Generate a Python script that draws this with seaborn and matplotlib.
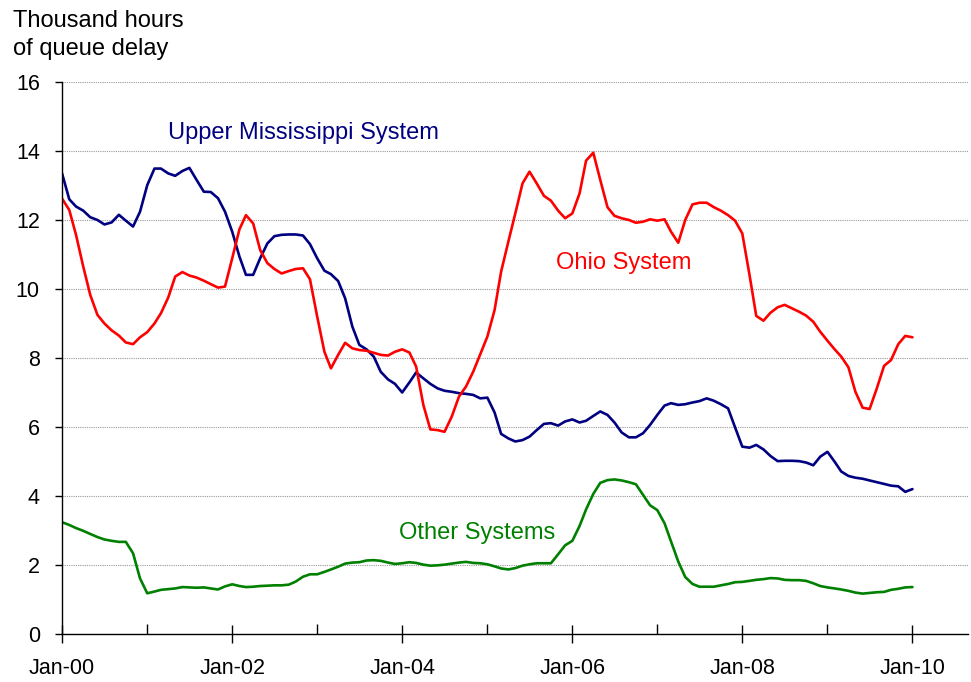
import pandas as pd
import seaborn as sns
import matplotlib.pyplot as plt
import matplotlib.dates as mdates

# monthly values, Jan-2000 .. Jan-2010 (thousand hours of queue delay)
meses = pd.date_range("2000-01-01", periods=121, freq="MS")

upper_mississippi = [
    13.35, 12.60, 12.39, 12.27, 12.08, 12.00, 11.87, 11.93, 12.15, 11.98, 11.81, 12.24,  # 2000
    13.01, 13.49, 13.49, 13.35, 13.28, 13.42, 13.51, 13.16, 12.82, 12.81, 12.63, 12.24,  # 2001
    11.66, 10.94, 10.41, 10.41, 10.89, 11.32, 11.53, 11.57, 11.58, 11.58, 11.55, 11.30,  # 2002
    10.89, 10.53, 10.43, 10.23, 9.73, 8.91, 8.38, 8.25, 8.04, 7.60, 7.38, 7.25,          # 2003
    7.00, 7.29, 7.58, 7.41, 7.25, 7.12, 7.05, 7.02, 6.98, 6.96, 6.93, 6.83,              # 2004
    6.85, 6.42, 5.80, 5.67, 5.58, 5.62, 5.72, 5.91, 6.09, 6.11, 6.04, 6.16,              # 2005
    6.22, 6.13, 6.18, 6.32, 6.45, 6.35, 6.13, 5.84, 5.70, 5.70, 5.82, 6.06,              # 2006
    6.35, 6.62, 6.69, 6.64, 6.66, 6.71, 6.75, 6.83, 6.76, 6.66, 6.54, 5.99,              # 2007
    5.43, 5.40, 5.48, 5.35, 5.16, 5.01, 5.02, 5.02, 5.01, 4.97, 4.89, 5.14,              # 2008
    5.28, 4.99, 4.71, 4.58, 4.53, 4.50, 4.45, 4.40, 4.35, 4.30, 4.28, 4.12,              # 2009
    4.20,
]

ohio = [
    12.62, 12.29, 11.57, 10.65, 9.83, 9.25, 9.00, 8.80, 8.65, 8.45, 8.40, 8.60,          # 2000
    8.75, 9.00, 9.30, 9.75, 10.36, 10.49, 10.39, 10.33, 10.24, 10.14, 10.04, 10.07,      # 2001
    10.89, 11.73, 12.14, 11.90, 11.13, 10.75, 10.58, 10.45, 10.52, 10.58, 10.60, 10.28,  # 2002
    9.20, 8.18, 7.70, 8.09, 8.44, 8.28, 8.23, 8.21, 8.15, 8.09, 8.07, 8.18,              # 2003
    8.25, 8.16, 7.75, 6.64, 5.93, 5.91, 5.86, 6.30, 6.88, 7.17, 7.60, 8.10,              # 2004
    8.62, 9.39, 10.50, 11.37, 12.19, 13.06, 13.40, 13.06, 12.70, 12.56, 12.27, 12.05,    # 2005
    12.19, 12.77, 13.72, 13.95, 13.16, 12.37, 12.12, 12.05, 12.00, 11.92, 11.95, 12.02,  # 2006
    11.98, 12.02, 11.66, 11.34, 12.00, 12.45, 12.50, 12.50, 12.37, 12.27, 12.14, 11.98,  # 2007
    11.61, 10.41, 9.22, 9.08, 9.31, 9.47, 9.54, 9.44, 9.34, 9.23, 9.05, 8.76,            # 2008
    8.50, 8.25, 8.04, 7.73, 7.02, 6.56, 6.52, 7.12, 7.77, 7.94, 8.40, 8.64,              # 2009
    8.60,
]

outros = [
    3.24, 3.16, 3.07, 2.99, 2.90, 2.81, 2.74, 2.70, 2.67, 2.67, 2.34, 1.61,  # 2000
    1.18, 1.23, 1.28, 1.30, 1.32, 1.36, 1.35, 1.34, 1.35, 1.32, 1.29, 1.38,  # 2001
    1.44, 1.39, 1.36, 1.37, 1.39, 1.40, 1.41, 1.41, 1.43, 1.52, 1.66, 1.73,  # 2002
    1.73, 1.80, 1.87, 1.95, 2.04, 2.07, 2.08, 2.13, 2.14, 2.12, 2.07, 2.03,  # 2003
    2.05, 2.08, 2.06, 2.01, 1.98, 1.99, 2.01, 2.04, 2.07, 2.09, 2.06, 2.05,  # 2004
    2.02, 1.96, 1.90, 1.87, 1.91, 1.98, 2.02, 2.05, 2.05, 2.05, 2.31, 2.57,  # 2005
    2.70, 3.13, 3.61, 4.06, 4.38, 4.46, 4.48, 4.45, 4.40, 4.34, 4.03, 3.73,  # 2006
    3.59, 3.21, 2.68, 2.10, 1.65, 1.45, 1.37, 1.37, 1.37, 1.41, 1.45, 1.50,  # 2007
    1.51, 1.54, 1.57, 1.59, 1.62, 1.61, 1.57, 1.56, 1.56, 1.54, 1.47, 1.39,  # 2008
    1.35, 1.32, 1.29, 1.25, 1.20, 1.17, 1.19, 1.21, 1.22, 1.28, 1.31, 1.35,  # 2009
    1.36,
]

sistemas = ["Upper Mississippi System", "Ohio System", "Other Systems"]
cores = {"Upper Mississippi System": "#000080",
         "Ohio System": "#FF0000",
         "Other Systems": "#008000"}

dados = pd.DataFrame({
    "Mes": list(meses) * 3,
    "Atraso": upper_mississippi + ohio + outros,
    "Sistema": ([sistemas[0]] * 121 + [sistemas[1]] * 121 + [sistemas[2]] * 121),
})

sns.set_theme(style="white")
plt.rcParams["font.family"] = ["Liberation Sans", "DejaVu Sans"]
plt.rcParams["font.size"] = 15.5
plt.rcParams["text.color"] = "black"

fig = plt.figure(figsize=(9.71, 6.82), dpi=100)
ax = fig.add_axes([0.0639, 0.0704, 0.9331, 0.8094])

sns.lineplot(data=dados, x="Mes", y="Atraso", hue="Sistema",
             palette=cores, linewidth=1.9, legend=False, ax=ax)

ax.set_ylim(0, 16)
ax.set_xlim(pd.Timestamp("2000-01-01"), pd.Timestamp("2010-08-28"))
ax.set_yticks(range(0, 17, 2))
ax.yaxis.grid(True, linestyle=(0, (1, 1)), color="#999999", linewidth=0.8)
ax.xaxis.grid(False)

ax.xaxis.set_major_locator(mdates.YearLocator(2))
ax.xaxis.set_minor_locator(mdates.YearLocator(1))
ax.xaxis.set_major_formatter(mdates.DateFormatter("%b-%y"))

ax.set_xlabel("")
ax.set_ylabel("")
for lado in ["top", "right"]:
    ax.spines[lado].set_visible(False)
for lado in ["left", "bottom"]:
    ax.spines[lado].set_color("black")
    ax.spines[lado].set_linewidth(1.0)

ax.tick_params(axis="y", which="major", direction="out", length=5,
               width=1, color="black", labelcolor="black", pad=11,
               labelsize=15.5, left=True)
ax.tick_params(axis="x", which="major", direction="inout", length=13,
               width=1, color="black", labelcolor="black", pad=11,
               labelsize=15.5, bottom=True)
ax.tick_params(axis="x", which="minor", direction="in", length=7,
               width=1, color="black", bottom=True)

ax.text(pd.Timestamp("2002-11-05"), 14.52, "Upper Mississippi System",
        color="#000080", fontsize=17, ha="center", va="center")
ax.text(pd.Timestamp("2006-08-10"), 10.75, "Ohio System",
        color="#FF0000", fontsize=17, ha="center", va="center")
ax.text(pd.Timestamp("2004-11-18"), 2.93, "Other Systems",
        color="#008000", fontsize=17, ha="center", va="center")

fig.text(0.013, 0.985, "Thousand hours\nof queue delay", fontsize=17,
         color="black", ha="left", va="top", linespacing=1.35)

fig.savefig("out.png", dpi=100)
plt.close(fig)
